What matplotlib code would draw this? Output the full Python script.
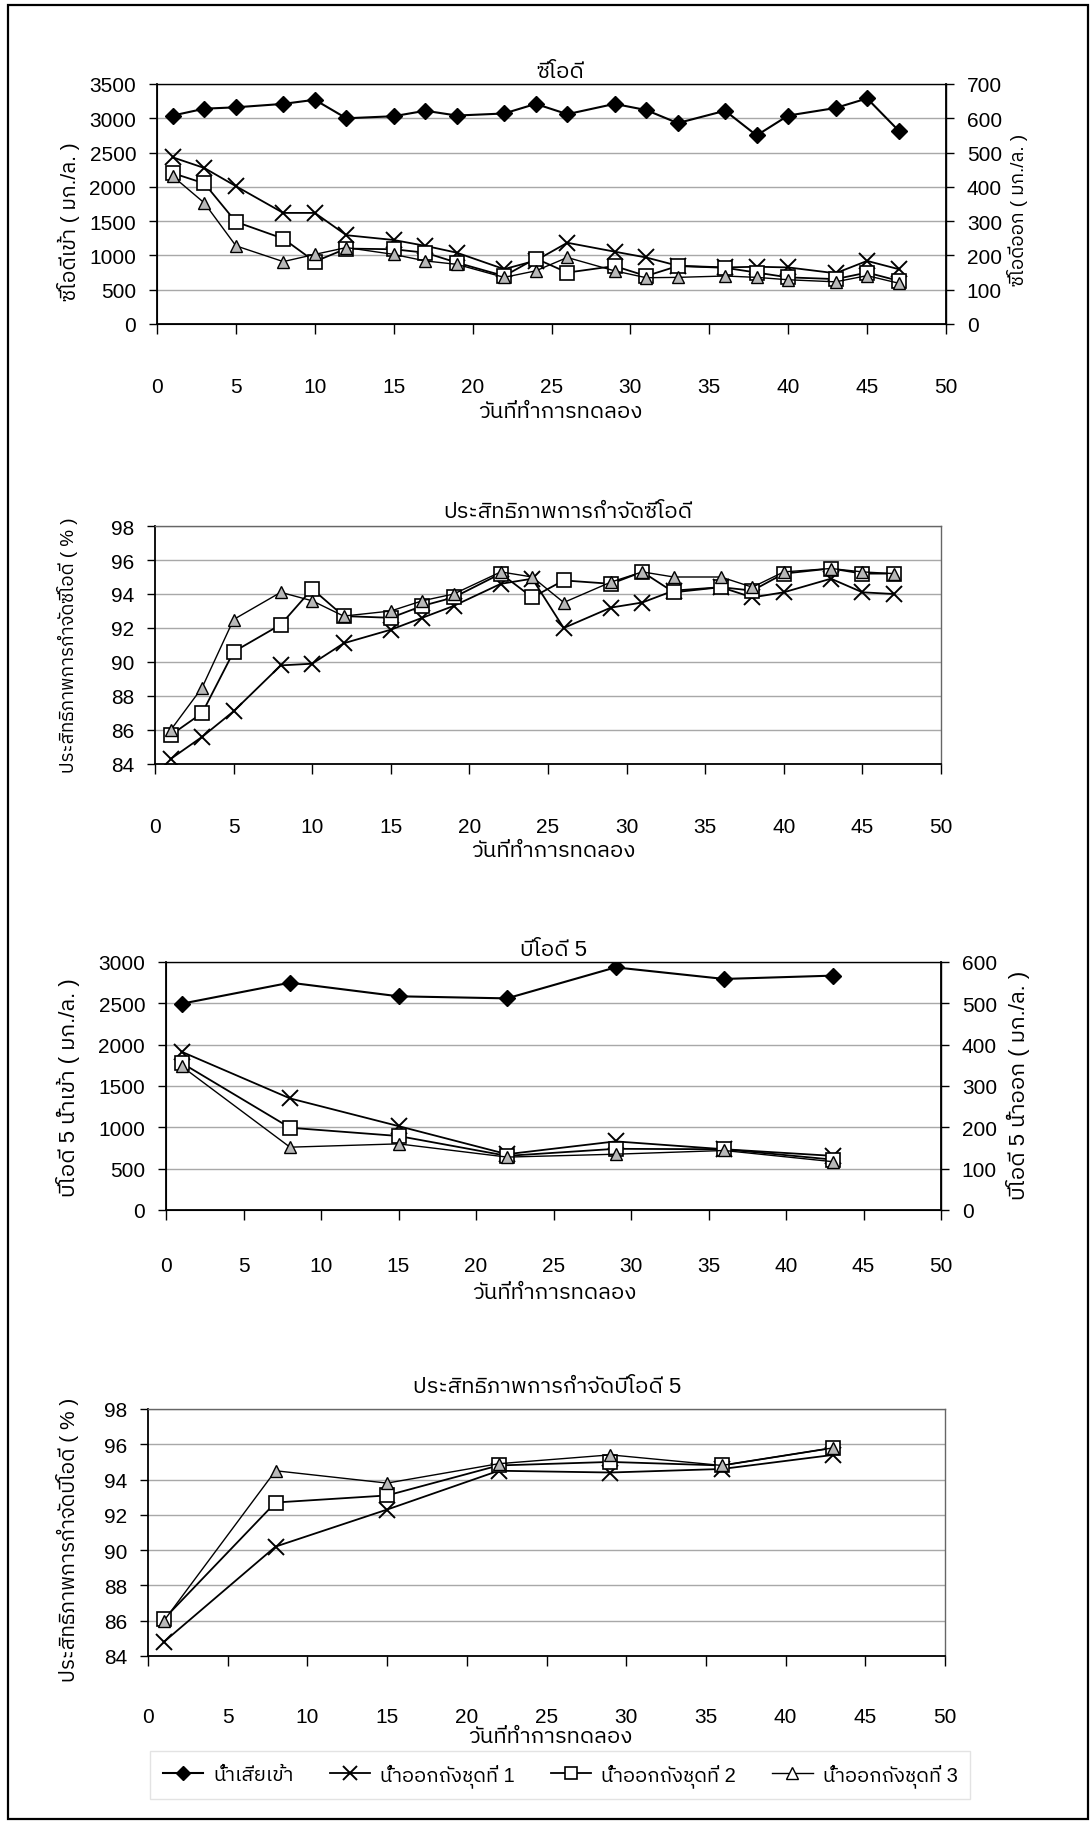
import matplotlib
matplotlib.use("Agg")
import matplotlib.pyplot as plt
import matplotlib.font_manager as fm
from matplotlib.ft2font import FT2Font
from matplotlib.lines import Line2D
from matplotlib.patches import Rectangle

# ---------------- data ----------------
cod_days = [1, 3, 5, 8, 10, 12, 15, 17, 19, 22, 24, 26, 29, 31, 33, 36, 38, 40, 43, 45, 47]
cod_in = [3040, 3140, 3160, 3210, 3270, 3000, 3030, 3110, 3040, 3070, 3210,
          3060, 3210, 3120, 2930, 3110, 2750, 3040, 3150, 3290, 2820]
cod_out1 = [486, 455, 402, 324, 324, 259, 245, 228, 208, 160, 185,
            237, 211, 194, 170, 165, 167, 165, 148, 184, 160]
cod_out2 = [440, 410, 298, 249, 182, 220, 218, 208, 179, 140, 191,
            150, 169, 140, 169, 164, 150, 136, 131, 150, 126]
cod_out3 = [431, 353, 228, 182, 203, 223, 203, 184, 174, 136, 155,
            194, 155, 135, 136, 140, 136, 129, 123, 141, 119]

cod_eff1 = [84.3, 85.6, 87.1, 89.8, 89.9, 91.1, 91.9, 92.6, 93.3, 94.6, 94.9,
            92.0, 93.2, 93.5, 94.2, 94.4, 93.8, 94.1, 94.9, 94.1, 94.0]
cod_eff2 = [85.7, 87.0, 90.6, 92.2, 94.3, 92.7, 92.6, 93.3, 93.8, 95.2, 93.8,
            94.8, 94.6, 95.3, 94.1, 94.4, 94.2, 95.2, 95.5, 95.2, 95.2]
cod_eff3 = [86.0, 88.5, 92.5, 94.1, 93.6, 92.7, 93.0, 93.6, 94.0, 95.3, 95.0,
            93.5, 94.7, 95.3, 95.0, 95.0, 94.4, 95.3, 95.5, 95.3, 95.2]

bod_days = [1, 8, 15, 22, 29, 36, 43]
bod_in = [2495, 2750, 2585, 2560, 2935, 2795, 2835]
bod_out1 = [383, 270, 203, 135, 166, 147, 131]
bod_out2 = [356, 199, 179, 131, 148, 147, 122]
bod_out3 = [348, 152, 160, 128, 135, 144, 117]
bod_eff1 = [84.8, 90.2, 92.3, 94.5, 94.4, 94.6, 95.4]
bod_eff2 = [86.1, 92.7, 93.1, 94.8, 95.0, 94.8, 95.8]
bod_eff3 = [86.0, 94.5, 93.8, 94.9, 95.4, 94.8, 95.8]

x_ticks = [0, 5, 10, 15, 20, 25, 30, 35, 40, 45, 50]

titles = ["ซีโอดี", "ประสิทธิภาพการกำจัดซีโอดี", "บีโอดี 5", "ประสิทธิภาพการกำจัดบีโอดี 5"]
xlabel = "วันที่ทำการทดลอง"
ylabels_left = ["ซีโอดีเข้า ( มก./ล. )", "ประสิทธิภาพการกำจัดซีโอดี ( % )",
                "บีโอดี 5 น้ำเข้า ( มก./ล. )", "ประสิทธิภาพการกำจัดบีโอดี ( % )"]
ylabels_right = ["ซีโอดีออก ( มก./ล. )", "บีโอดี 5 น้ำออก ( มก./ล. )"]
series_names = ["น้ำเสียเข้า", "น้ำออกถังชุดที่ 1", "น้ำออกถังชุดที่ 2", "น้ำออกถังชุดที่ 3"]

# ---------------- fonts ----------------
def find_thai_font():
    cands = []
    seen = set()
    paths = [f.fname for f in fm.fontManager.ttflist]
    try:
        paths += fm.findSystemFonts()
    except Exception:
        pass
    for p in paths:
        if p in seen:
            continue
        seen.add(p)
        try:
            ft = FT2Font(p)
            if 0x0E01 in ft.get_charmap():
                try:
                    fm.fontManager.addfont(p)
                except Exception:
                    pass
                cands.append(ft.family_name)
        except Exception:
            pass
    pref = [c for c in cands if "Thai" in c and "Looped" not in c]
    if pref:
        return pref[0]
    return cands[0] if cands else None

thai = find_thai_font()
names = {f.name for f in fm.fontManager.ttflist}
fam = []
for n in ["Liberation Sans Narrow", "Liberation Sans"]:
    if n in names:
        fam.append(n)
        break
if thai:
    fam.append(thai)
fam.append("DejaVu Sans")
plt.rcParams["font.family"] = fam

# ---------------- figure ----------------
W, H = 1092, 1824
fig = plt.figure(figsize=(W / 100, H / 100), dpi=100)
fig.patch.set_facecolor("white")

def rect(l, r, t, b):
    return [l / W, 1 - b / H, (r - l) / W, (b - t) / H]

def fy(y):
    return 1 - y / H

GRID = "#a8a8a8"
TRI_FILL = "#b8b8b8"

def style_main(ax, ylim, yticks, pad_x):
    ax.set_xlim(0, 50)
    ax.set_xticks(x_ticks)
    ax.set_ylim(*ylim)
    ax.set_yticks(yticks)
    ax.tick_params(axis="x", direction="out", length=7, width=1, pad=pad_x, labelsize=15)
    ax.tick_params(axis="y", direction="out", length=6, width=1, pad=9, labelsize=15)
    for y in yticks[1:]:
        ax.axhline(y, color=GRID, lw=1.0, zorder=0)
    for s in ["left", "bottom"]:
        ax.spines[s].set_linewidth(1.3)
    for s in ["top", "right"]:
        ax.spines[s].set_color("#666666")
        ax.spines[s].set_linewidth(1.0)

def plot_in(ax, x, y):
    ax.plot(x, y, color="black", lw=1.5, marker="D", ms=8, mfc="black", mec="black", zorder=5)

def plot_outs(ax, x, y1, y2, y3):
    ax.plot(x, y1, color="black", lw=1.3, marker="x", ms=11, mew=1.4, zorder=3)
    ax.plot(x, y2, color="black", lw=1.3, marker="s", ms=10, mfc="white", mec="black", mew=1.2, zorder=4)
    ax.plot(x, y3, color="black", lw=1.0, marker="^", ms=8, mfc=TRI_FILL, mec="black", mew=1.0, zorder=5)

TSIZE = 16

# ---- chart 1: COD ----
ax1 = fig.add_axes(rect(157, 946, 85, 325))
style_main(ax1, (0, 3500), list(range(0, 3501, 500)), 31)
ax1.spines["right"].set_color("black")
ax1.spines["top"].set_color("#444444")
plot_in(ax1, cod_days, cod_in)
ax1b = ax1.twinx()
ax1b.set_ylim(0, 700)
ax1b.set_yticks(list(range(0, 701, 100)))
ax1b.tick_params(axis="y", direction="out", length=6, width=1, pad=9, labelsize=15)
ax1b.spines["right"].set_linewidth(1.3)
plot_outs(ax1b, cod_days, cod_out1, cod_out2, cod_out3)
fig.text(560 / W, fy(72), titles[0], ha="center", va="center", fontsize=TSIZE)
fig.text(560 / W, fy(413), xlabel, ha="center", va="center", fontsize=TSIZE)
fig.text(68 / W, fy(222), ylabels_left[0], ha="center", va="center", rotation=90, fontsize=15)
fig.text(1018 / W, fy(210), ylabels_right[0], ha="center", va="center", rotation=90, fontsize=13.5)

# ---- chart 2: COD efficiency ----
ax2 = fig.add_axes(rect(155, 941, 527, 765))
style_main(ax2, (84, 98), list(range(84, 99, 2)), 31)
plot_outs(ax2, cod_days, cod_eff1, cod_eff2, cod_eff3)
fig.text(568 / W, fy(513), titles[1], ha="center", va="center", fontsize=TSIZE)
fig.text(553 / W, fy(852), xlabel, ha="center", va="center", fontsize=TSIZE)
fig.text(68 / W, fy(645), ylabels_left[1], ha="center", va="center", rotation=90, fontsize=13.5)

# ---- chart 3: BOD5 ----
ax3 = fig.add_axes(rect(166, 941, 963, 1211))
style_main(ax3, (0, 3000), list(range(0, 3001, 500)), 26)
ax3.spines["right"].set_color("black")
ax3.spines["top"].set_color("#444444")
plot_in(ax3, bod_days, bod_in)
ax3b = ax3.twinx()
ax3b.set_ylim(0, 600)
ax3b.set_yticks(list(range(0, 601, 100)))
ax3b.tick_params(axis="y", direction="out", length=6, width=1, pad=9, labelsize=15)
ax3b.spines["right"].set_linewidth(1.3)
plot_outs(ax3b, bod_days, bod_out1, bod_out2, bod_out3)
fig.text(554 / W, fy(950), titles[2], ha="center", va="center", fontsize=TSIZE)
fig.text(554 / W, fy(1294), xlabel, ha="center", va="center", fontsize=TSIZE)
fig.text(68 / W, fy(1088), ylabels_left[2], ha="center", va="center", rotation=90, fontsize=16)
fig.text(1018 / W, fy(1085), ylabels_right[1], ha="center", va="center", rotation=90, fontsize=16)

# ---- chart 4: BOD efficiency ----
ax4 = fig.add_axes(rect(148, 945, 1410, 1657))
style_main(ax4, (84, 98), list(range(84, 99, 2)), 30)
plot_outs(ax4, bod_days, bod_eff1, bod_eff2, bod_eff3)
fig.text(547 / W, fy(1388), titles[3], ha="center", va="center", fontsize=TSIZE)
fig.text(550 / W, fy(1738), xlabel, ha="center", va="center", fontsize=TSIZE)
fig.text(68 / W, fy(1540), ylabels_left[3], ha="center", va="center", rotation=90, fontsize=15)

# ---- legend ----
handles = [
    Line2D([], [], color="black", lw=1.5, marker="D", ms=7, mfc="black"),
    Line2D([], [], color="black", lw=1.3, marker="x", ms=10, mew=1.4),
    Line2D([], [], color="black", lw=1.3, marker="s", ms=9, mfc="white", mew=1.2),
    Line2D([], [], color="black", lw=1.0, marker="^", ms=8, mfc="white", mew=1.0),
]
leg = fig.legend(handles, series_names, loc="center", bbox_to_anchor=(560 / W, fy(1776)),
                 ncol=4, fontsize=14.5, frameon=True, fancybox=False, handlelength=2.0,
                 columnspacing=1.8, handletextpad=0.5, borderpad=0.6)
leg.get_frame().set_edgecolor("#dddddd")
leg.get_frame().set_linewidth(1.0)

# ---- page border ----
fig.patches.append(Rectangle((8 / W, 4 / H), 1080 / W, 1814 / H, transform=fig.transFigure,
                             fill=False, lw=1.6, ec="black"))

fig.savefig("out.png", dpi=100, facecolor="white")
